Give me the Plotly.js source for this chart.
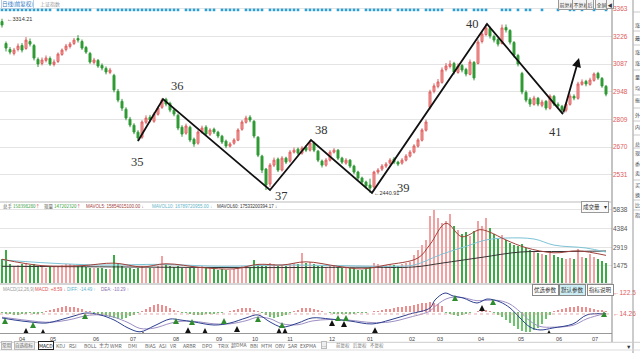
<!DOCTYPE html>
<html><head><meta charset="utf-8">
<script src="https://cdn.plot.ly/plotly-3.0.1.min.js"></script>
<style>html,body{margin:0;padding:0;background:#fff;overflow:hidden}#c{width:640px;height:353px}</style>
</head><body><div id="c"></div>
<script>
// ---------- data ----------
const monthTicks = [0,5,12.75,23.5,32.75,43.5,54.25,63.25,72,82.5,92,102.5,109.5,119.75,129.75,139.25,148.25];
const monthLabels = ['03','04','05','06','07','08','09','10','11','12','01','02','03','04','05','06','07'];

const open = [3300,3190,3160,3140,3160,3180,3165,3200,3180,3110, 3090,3105,3115,3085,3100,3135,3160,3175,3190,3215,
3200,3170,3140,3095,3105,3080,3065,3045,3030,2950, 2900,2860,2810,2780,2745,2720,2795,2820,2800,2835,
2870,2910,2890,2855,2830,2770,2740,2770,2710,2690, 2745,2770,2735,2760,2745,2725,2700,2675,2690,2705,
2760,2795,2820,2800,2720,2625,2560,2485,2580,2610, 2555,2615,2600,2645,2660,2640,2670,2655,2690,2650,
2600,2580,2605,2645,2655,2615,2590,2605,2575,2545, 2515,2495,2480,2470,2545,2560,2575,2590,2610,2595,
2590,2605,2625,2645,2675,2705,2755,2870,2950,2975, 2995,3060,3075,3090,3045,3080,3060,3035,3095,3090,
3200,3235,3265,3225,3210,3190,3270,3255,3195,3130, 3040,2945,2910,2885,2915,2880,2900,2865,2925,2885,
2875,2855,2885,2925,2915,2985,3000,2985,3005,3040, 3015,2975];
const high = [3314,3200,3172,3168,3190,3192,3222,3215,3188,3120, 3120,3130,3125,3110,3145,3165,3188,3198,3218,3232,
3210,3178,3148,3118,3112,3090,3075,3068,3038,2962, 2912,2870,2822,2790,2755,2805,2830,2832,2845,2875,
2915,2918,2898,2865,2838,2780,2788,2778,2718,2755, 2778,2780,2765,2768,2752,2732,2708,2695,2715,2765,
2806,2828,2830,2805,2725,2632,2566,2590,2618,2618, 2625,2622,2655,2668,2668,2675,2680,2706,2698,2656,
2608,2615,2655,2665,2660,2622,2615,2610,2582,2552, 2522,2502,2512,2552,2565,2585,2595,2615,2620,2602,
2615,2635,2655,2685,2715,2765,2808,2958,2990,3012, 3070,3092,3105,3098,3090,3088,3068,3110,3102,3210,
3250,3288,3275,3235,3218,3285,3285,3262,3202,3138, 3048,2955,2920,2928,2922,2908,2906,2935,2932,2895,
2882,2895,2938,2935,2998,3010,3008,3018,3045,3048, 3022,2982];
const low = [3270,3150,3135,3130,3150,3145,3158,3175,3105,3072, 3080,3095,3078,3075,3092,3128,3150,3165,3182,3195,
3158,3138,3088,3085,3068,3055,3035,3036,2945,2895, 2852,2805,2770,2735,2700,2712,2785,2795,2792,2828,
2862,2875,2845,2825,2755,2722,2732,2695,2672,2682, 2738,2728,2726,2736,2715,2686,2665,2668,2682,2700,
2752,2788,2795,2715,2620,2540,2455,2470,2570,2545, 2548,2585,2592,2638,2630,2632,2645,2648,2645,2595,
2568,2572,2598,2638,2605,2585,2582,2565,2535,2505, 2485,2462,2441,2462,2535,2550,2565,2582,2585,2575,
2582,2598,2618,2638,2668,2698,2748,2860,2940,2965, 2988,3050,3065,3035,3038,3045,3025,3030,3005,3085,
3190,3228,3215,3195,3175,3185,3245,3185,3120,3075, 2935,2895,2872,2878,2875,2870,2855,2858,2876,2865,
2840,2845,2878,2905,2908,2978,2975,2978,2998,3008, 2968,2925];
const close = [3283,3167,3147,3157,3177,3157,3207,3187,3117,3087, 3107,3117,3087,3097,3137,3157,3177,3187,3207,3207,
3167,3147,3097,3107,3077,3067,3047,3057,2957,2906, 2866,2816,2781,2746,2716,2796,2816,2806,2836,2866,
2906,2886,2856,2836,2766,2736,2776,2706,2686,2746, 2766,2736,2756,2746,2726,2696,2676,2686,2706,2756,
2796,2816,2806,2726,2630,2555,2480,2580,2605,2555, 2615,2595,2645,2655,2640,2665,2655,2691,2655,2605,
2580,2605,2645,2655,2615,2595,2605,2575,2545,2515, 2495,2475,2465,2545,2555,2575,2585,2605,2595,2585,
2605,2625,2645,2676,2706,2756,2796,2947,2977,2997, 3057,3077,3087,3047,3077,3057,3037,3097,3017,3197,
3238,3268,3228,3207,3187,3268,3258,3197,3132,3087, 2947,2906,2886,2916,2886,2896,2866,2926,2886,2876,
2856,2886,2926,2916,2987,2997,2987,3007,3037,3017, 2977,2936];
const volume = [2000,2750,1650,1500,1550,1600,1700,1550,1600,1450, 1400,1350,1450,1400,1500,1550,1600,1650,1550,1500,
1450,1400,1350,1300,1350,1300,1250,1250,2300,1600, 1450,1350,1300,1250,1300,1450,1350,1300,1350,1500,
2250,1600,1500,1400,1450,1350,1300,1350,1300,1400, 1450,1350,1300,1250,1200,1250,1200,1200,1250,1350,
1450,1500,1400,1950,1600,1500,1450,1700,1600,1500, 1550,1500,1600,1700,1650,2500,1700,1750,1600,1500,
1450,1400,1450,1500,1400,1350,1300,1300,1250,1200, 1200,1250,1400,1700,1600,1500,1550,1600,1550,1500,
1600,1700,1750,2300,2700,3100,3500,5400,5800,5200, 4800,5000,5500,4600,4300,4000,4100,3800,4200,5000,
4600,5200,4400,4000,3600,3900,3500,3300,3100,3000, 3200,2900,2700,2600,2500,2400,2300,2450,2300,2200,
2100,2000,2100,2000,2800,2200,2100,2400,2200,2000, 1900,1700];

const mav5X = [0,10,20,28,35,41,50,58,64,70,76,84,90,96,104,107,111,115,119.5,122,126,131,138,144,151];
const mav5Y = [2000,1500,1500,1700,1400,1650,1350,1250,1600,1550,1800,1450,1250,1550,2100,3150,4800,3750,4300,4100,3500,2900,2500,2650,2300];
const mav10X = [0,12,25,40,55,70,85,98,103,110,116,121,126,133,138,146,151];
const mav10Y = [1950,1700,1550,1600,1450,1550,1500,1450,1550,2400,3000,3500,3650,3575,3100,2875,2560];
const mav60X = [0,30,60,90,103,110,120,129.5,140,151];
const mav60Y = [1450,1400,1350,1380,1400,1700,2150,2560,2600,2640];

const macdX = [0,3,7,11,14.5,18,21,24.5,28,31.5,34.5,38,42,44.5,48,53,57,61,64,67,70,74,77.5,82,87,92.5,97,102,107,108.25,110.75,112.75,115.25,118.75,121.25,124.5,127,129.5,132,134.5,137.75,142.75,146.25,151];
const dif = [-40,-53,-66,-73,-53,-27,-8,-20,-53,-105,-130,-92,-47,-53,-66,-86,-73,-40,-20,-66,-99,-73,-40,-47,-60,-79,-53,-14,25,77,122,103,90,57,83,64,25,-40,-99,-118,-105,-79,-20,-14];
const dea = [-35,-45,-58,-68,-62,-45,-25,-20,-35,-70,-108,-106,-75,-62,-62,-78,-78,-58,-35,-45,-78,-84,-60,-50,-55,-70,-66,-35,5,35,80,95,92,72,75,72,50,0,-60,-95,-100,-88,-45,-10];
const macdHist = [-8,-12,-15,-18,-20,-16,-12,-10,-14,-12,-6,
4,10,18,26,32,35,34,30,24,16,8,2,
-6,-12,-18,-26,-34,-40,-45,-44,-40,-30,-18,-6,
8,20,34,44,50,46,38,26,14,4,
-6,-10,-14,-18,-20,-18,-16,-14,-12,-8,-6,-4,
4,10,18,24,26,22,14,6,
-10,-22,-34,-40,-36,-28,-18,-8,
6,14,22,26,24,18,10,4,
-4,-8,-12,-14,-16,-15,-14,-12,-10,-8,-6,-4,
4,8,12,16,20,24,28,32,36,40,44,50,56,60,62,58,50,40,
-8,-16,-24,-26,-22,-16,-10,-4,
6,10,12,8,
-10,-20,-35,-55,-75,-95,-112,-125,-132,-130,-120,-105,-80,-50,
-20,5,12,18,24,30,34,36,34,30,26,20,14,10,8];

const buySigX = [6,10.25,35.25,46.5,50.75,58.75,69.25,70.75,82.5,85.5,93.25,120,136.75];
const buySigY = [-106,-112,-128,-100,-106,-93,-106,-106,-53,-60,-100,44,-118];
const sellSigX = [0.75,7.75,20.75,43.5,47.5,55.5,64,70,84,86,113.25,122.75,150.5];
const sellSigY = [-40,-66,-8,-40,-47,-40,-27,-66,-20,-20,110,83,5];

const eventIdx = [0,1,2,3,4,5,6,7,8,9,10,11,12,14,15,16,17,18,19,20,21,22,24,25,26,27,28,29,30,31,32,33,34,35,36,37,38,39,40,41,42,43,44,46,47,48,49,51,52,53,55,56,57,58,59,61,62,63,64,65,67,68,69,70,71,72,73,74,76,77,78,79,80,81,82,84,85,86,87,88,89,91,92,93,94,95,96,97,99,100,101,102,103,104,106,107,108,109,110,113,114,115,116,118,119,120,121,125,126,127,129,131,132,135,139,142,143,145,148,151];

const zzX = [34,40.25,67,77.25,92.5,121.25,140.25];
const zzY = [2701,2911,2455,2706,2441,3288,2836];
const arrowEnd = [144.25,3117];
const waveLabels = ['35','36','37','38','39','40','41'];
const waveLabelX = [33.75,43.75,69.75,79.75,100.25,117.5,138.25];
const waveLabelY = [2595,2977,2425,2756,2465,3288,2746];

const priceTicks = [3363,3226,3087,2948,2809,2670,2531];
const volTicks = [5838,4384,2919,1475];
const macdTicks = [122.5,-14.26];
const macdTickText = ['←122.5','←14.26'];

const tabs = ['常用','自选指标','MACD','KDJ','RSI','BOLL','主力','WMR','DMI','BIAS','ASI','VR','ARBR','DPO','TRIX','超DMA','BBI','MTM','OBV','SAR','EXPMA'];
const sideChars = ['涨','最','涨','涨','量','均','振','外','内','总','现','委','卖','买','换','比','指'];

// ---------- helpers ----------
const W = 612, H = 333;
const FONT = 'Liberation Sans, Noto Sans CJK SC, sans-serif';
const CJK = 'Noto Sans CJK SC, Liberation Sans, sans-serif';
const idx = close.map((_, i) => i);
const up = close.map((c, i) => c >= open[i]);
const ann = [];
function A(X, Y, text, o) {
  ann.push(Object.assign({xref:'paper', yref:'paper', x:X/W, y:(H-Y)/H, text:text, showarrow:false,
    xanchor:'left', yanchor:'middle', font:{size:6, color:'#555', family:CJK}}, o || {}));
}
function px2x(X){ return X/W; }
function py2y(Y){ return (H-Y)/H; }

// ---------- traces ----------
const traces = [];
traces.push({type:'candlestick', x:idx, open:open, high:high, low:low, close:close, xaxis:'x', yaxis:'y',
  increasing:{line:{color:'#e06060', width:1}, fillcolor:'#f5a8a8'},
  decreasing:{line:{color:'#2e9a34', width:1}, fillcolor:'#2e9a34'},
  whiskerwidth:0, showlegend:false, hoverinfo:'skip'});
traces.push({type:'scatter', mode:'lines', x:zzX, y:zzY, xaxis:'x', yaxis:'y', line:{color:'#111', width:1.8}, hoverinfo:'skip', showlegend:false});
traces.push({type:'scatter', mode:'markers', x:eventIdx, y:eventIdx.map(()=>0.975), xaxis:'x', yaxis:'y4',
  marker:{symbol:'square', size:2.6, color:'#2a9fd6'}, hoverinfo:'skip', showlegend:false});

traces.push({type:'bar', x:idx, y:volume, xaxis:'x', yaxis:'y2', width:0.62,
  marker:{color:up.map(u => u ? '#f3a0a0' : '#3aab45'), line:{width:0}}, hoverinfo:'skip', showlegend:false});
traces.push({type:'scatter', mode:'lines', x:mav60X, y:mav60Y, xaxis:'x', yaxis:'y2', line:{color:'#333', width:1, shape:'spline'}, hoverinfo:'skip', showlegend:false});
traces.push({type:'scatter', mode:'lines', x:mav10X, y:mav10Y, xaxis:'x', yaxis:'y2', line:{color:'#7cc3d6', width:1, shape:'spline'}, hoverinfo:'skip', showlegend:false});
traces.push({type:'scatter', mode:'lines', x:mav5X, y:mav5Y, xaxis:'x', yaxis:'y2', line:{color:'#a0403a', width:1, shape:'spline'}, hoverinfo:'skip', showlegend:false});

traces.push({type:'bar', x:idx, y:macdHist, xaxis:'x', yaxis:'y3', width:0.45,
  marker:{color:macdHist.map(v => v >= 0 ? '#f08c8c' : '#6cc46c'), line:{width:0}}, hoverinfo:'skip', showlegend:false});
traces.push({type:'scatter', mode:'lines', x:macdX, y:dea, xaxis:'x', yaxis:'y3', line:{color:'#9d8fc4', width:1, shape:'spline'}, hoverinfo:'skip', showlegend:false});
traces.push({type:'scatter', mode:'lines', x:macdX, y:dif, xaxis:'x', yaxis:'y3', line:{color:'#2d3f8f', width:1, shape:'spline'}, hoverinfo:'skip', showlegend:false});
traces.push({type:'scatter', mode:'markers', x:buySigX, y:buySigY, xaxis:'x', yaxis:'y3', marker:{symbol:'arrow-up', size:6, color:'#111'}, hoverinfo:'skip', showlegend:false});
traces.push({type:'scatter', mode:'markers', x:sellSigX, y:sellSigY, xaxis:'x', yaxis:'y3', marker:{symbol:'arrow-up', size:6, color:'#2e8b2e'}, hoverinfo:'skip', showlegend:false});

// ---------- annotations ----------
waveLabels.forEach((t, k) => ann.push({xref:'x', yref:'y', x:waveLabelX[k], y:waveLabelY[k], text:t, showarrow:false,
  font:{family:'Liberation Serif, DejaVu Serif, serif', size:12.5, color:'#333'}}));
ann.push({xref:'x', yref:'y', axref:'x', ayref:'y', x:arrowEnd[0], y:arrowEnd[1], ax:zzX[6], ay:zzY[6], text:'',
  showarrow:true, arrowhead:2, arrowsize:1, arrowwidth:1.8, arrowcolor:'#111'});
ann.push({xref:'x', yref:'y', x:0, y:high[0], text:'←3314.21', showarrow:false, xanchor:'left', xshift:3,
  font:{size:5.5, color:'#333', family:FONT}});
ann.push({xref:'x', yref:'y', x:92.5, y:2441, text:'←2440.91', showarrow:false, xanchor:'left', xshift:0,
  font:{size:5.5, color:'#333', family:FONT}});

A(1, 4, '日线(前复权)', {font:{size:5.5, color:'#2f78c4', family:CJK}, bordercolor:'#b9cde3', borderwidth:1, borderpad:0});
A(38, 4, '上证指数', {font:{size:5, color:'#999', family:CJK}});
// top-right buttons
[['前复权',567],['不复权',581],['后',590],['全屏',601],['◀',610]].forEach(b =>
  A(b[1], 4.5, b[0], {xanchor:'center', font:{size:5, color:'#333', family:CJK}, bordercolor:'#999', borderwidth:1, borderpad:0.5, bgcolor:'#f4f4f4'}));

// volume header
A(1, 206, '<span style="color:#555">总手</span> <span style="color:#2e9a34">158398280</span><span style="color:#e05050">↑</span>', {font:{size:4.5, family:CJK}});
A(42, 206, '<span style="color:#555">现量</span> <span style="color:#2e9a34">147202320</span><span style="color:#e05050">↑</span>', {font:{size:4.5, family:CJK}});
A(84, 206, 'MAVOL5: 15854015100.00 ↓', {font:{size:4.5, color:'#a0403a', family:FONT}});
A(150, 206, 'MAVOL10: 16789720955.00 ↓', {font:{size:4.5, color:'#5fb3c9', family:FONT}});
A(215, 206, 'MAVOL60: 17533200394.17 ↓', {font:{size:4.5, color:'#333', family:FONT}});
A(595, 206.5, '成交量&#160;&#160;&#160;&#160;▾', {xanchor:'center', font:{size:5.5, color:'#333', family:CJK}, bordercolor:'#999', borderwidth:1, borderpad:1, bgcolor:'#fafafa'});

// MACD header
A(1, 289, 'MACD(12,26,9)', {font:{size:4.5, color:'#999', family:FONT}});
A(33, 289, 'MACD: +8.59 ↓', {font:{size:4.5, color:'#e05050', family:FONT}});
A(65, 289, 'DIFF: -14.49 ↑', {font:{size:4.5, color:'#5fb3c9', family:FONT}});
A(99, 289, 'DEA: -10.29 ↑', {font:{size:4.5, color:'#8a6fb0', family:FONT}});
[['优选参数',545,'#fff'],['默认参数',572,'#cdeef5'],['指标说明',600,'#fff']].forEach(b =>
  A(b[1], 290, b[0], {xanchor:'center', font:{size:5.5, color:'#333', family:CJK}, bordercolor:'#888', borderwidth:1, borderpad:1, bgcolor:b[2]}));

// bottom toolbar
const tabX = [6.5,24.5,45.5,60,73,90,104,116,132,150,163,173,190,207,223,239,254,266,280,293,308];
tabs.forEach((t, k) => {
  const o = {xanchor:'center', font:{size:5, color:'#666', family:CJK}};
  if (k < 2) { o.bordercolor = '#bbb'; o.borderwidth = 1; o.bgcolor = '#eee'; o.borderpad = 0; o.font = {size:4.5, color:'#666', family:CJK}; }
  if (t === 'MACD') { o.bordercolor = '#222'; o.borderwidth = 1; o.bgcolor = '#fff'; o.font = {size:5, color:'#111', family:CJK}; o.borderpad = 0; }
  A(tabX[k], 345.3, t, o);
});
A(324, 345.3, '...', {xanchor:'center', font:{size:5, color:'#666'}, bordercolor:'#bbb', borderwidth:1, bgcolor:'#eee', borderpad:0});
[['前复权',343],['后复权',360],['不复权',377]].forEach(b => A(b[1], 345.3, b[0], {xanchor:'center', borderpad:0, font:{size:4.5, color:'#777', family:CJK}}));
A(629, 347, '▼', {xanchor:'center', font:{size:5.5, color:'#333'}});

// right panel characters
const sideY = [25,38,52,63,77,88,100,115,127,143,153,163,173,185,195,205,215];
sideChars.forEach((t, k) => A(633.5, sideY[k], t, {font:{size:5, color:'#444', family:CJK}, borderpad:0}));

// ---------- shapes ----------
const shapes = [
  {type:'line', xref:'paper', yref:'paper', x0:1, x1:1, y0:py2y(342), y1:1, line:{color:'#888', width:1}},
  {type:'line', xref:'paper', yref:'paper', x0:px2x(633), x1:px2x(633), y0:py2y(353), y1:1, line:{color:'#999', width:1}},
  {type:'line', xref:'paper', yref:'paper', x0:0, x1:1, y0:py2y(202), y1:py2y(202), line:{color:'#bbb', width:1}},
  {type:'line', xref:'paper', yref:'paper', x0:0, x1:1, y0:py2y(284), y1:py2y(284), line:{color:'#aaa', width:1}},
  {type:'line', xref:'paper', yref:'paper', x0:0, x1:px2x(640), y0:py2y(342.3), y1:py2y(342.3), line:{color:'#ccc', width:1}},
  {type:'line', xref:'paper', yref:'paper', x0:0, x1:px2x(640), y0:py2y(350), y1:py2y(350), line:{color:'#ddd', width:1}},
  {type:'line', xref:'paper', yref:'y3', x0:0, x1:1, y0:-14.26, y1:-14.26, line:{color:'#d99', width:0.8, dash:'dot'}}
];
[12,31,45,70,95,108,121,135,148,180,200,210].forEach(Y => shapes.push({type:'line', xref:'paper', yref:'paper',
  x0:px2x(633), x1:px2x(640), y0:py2y(Y), y1:py2y(Y), line:{color:'#bbb', width:0.8}}));

// ---------- layout ----------
const layout = {
  width:640, height:353, margin:{l:0, r:28, t:0, b:20}, paper_bgcolor:'#fff', plot_bgcolor:'#fff',
  font:{family:FONT, size:6.5, color:'#555'}, showlegend:false, bargap:0,
  xaxis:{domain:[0,1], anchor:'y3', range:[-0.5,152.5], tickvals:monthTicks, ticktext:monthLabels, tickfont:{size:5.5, color:'#444'},
    ticks:'', showgrid:false, zeroline:false, showline:true, linecolor:'#999', linewidth:1,
    rangeslider:{visible:false}, fixedrange:true},
  yaxis:{domain:[py2y(201), py2y(5)], anchor:'x', side:'right', range:[2400,3383], tickvals:priceTicks, ticktext:priceTicks.map(String),
    tickfont:{size:6.5, color:'#e05a5a'}, ticks:'', showgrid:true, gridcolor:'#e4e4e4', gridwidth:1, zeroline:false, showline:false, fixedrange:true},
  yaxis4:{overlaying:'y', anchor:'x', range:[0,1], visible:false, fixedrange:true},
  yaxis2:{domain:[py2y(283), py2y(203)], anchor:'x', side:'right', range:[152,6376], tickvals:volTicks, ticktext:volTicks.map(String),
    tickfont:{size:6.5, color:'#555'}, ticks:'', showgrid:true, gridcolor:'#e4e4e4', zeroline:false, showline:false, fixedrange:true},
  yaxis3:{domain:[0, py2y(285)], anchor:'x', side:'right', range:[-137.8,174.2], tickvals:macdTicks, ticktext:macdTickText,
    tickfont:{size:6.5, color:'#e05a5a'}, ticks:'', showgrid:false, zeroline:false, showline:false, fixedrange:true},
  annotations:ann, shapes:shapes
};
Plotly.newPlot('c', traces, layout, {staticPlot:true, displayModeBar:false});
</script></body></html>
